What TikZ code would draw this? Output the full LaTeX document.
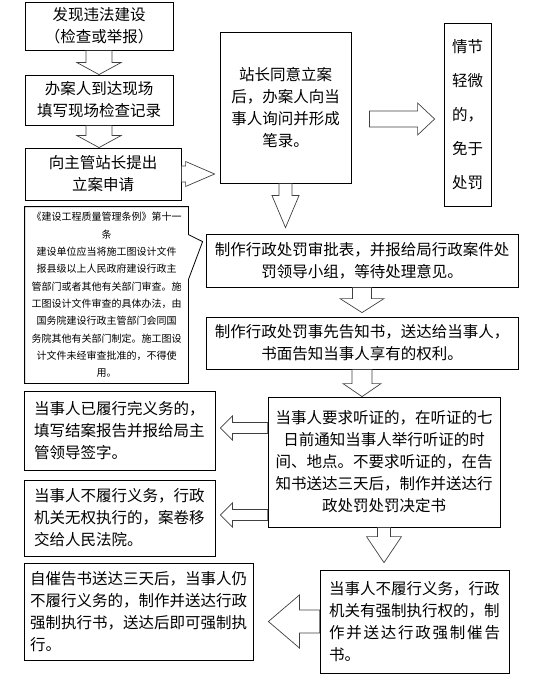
\documentclass[tikz,border=0pt]{standalone}
\usepackage{fontspec}
\setmainfont{Noto Sans CJK SC}
\usetikzlibrary{calc}

\newcommand{\blockarrow}[5]{%
\draw[fatarrow] let \p1=(#4), \p2=(#5), \n1={atan2(\y2-\y1,\x2-\x1)}, \n2={veclen(\x2-\x1,\y2-\y1)} in
  [shift={(\p1)}, rotate=\n1]
  (0pt,#1/2) -- ({\n2-#3},#1/2) -- ({\n2-#3},#2/2) -- (\n2,0pt) -- ({\n2-#3},-#2/2) -- ({\n2-#3},-#1/2) -- (0pt,-#1/2) -- cycle;
}

\begin{document}
\begin{tikzpicture}
[
x=1pt, y=-1pt,
every node/.style={draw, line width=0.8pt, inner sep=0pt, align=center, font=\fontsize{15.5}{22}\selectfont},
leftbox/.style={align=left, text width=#1},
note/.style={draw=none, font=\fontsize{10}{17.3}\selectfont},
fatarrow/.style={draw=black!75, line width=0.7pt, line join=miter}
]

\useasboundingbox (0,0) rectangle (543,676);

\node[minimum width=148, minimum height=48] (found) at (99,26) {发现违法建设\\（检查或举报）};
\node[minimum width=148, minimum height=50] (visit) at (99,100) {办案人到达现场\\填写现场检查记录};
\node[minimum width=156, minimum height=52] (apply) at (103,174) {向主管站长提出\\立案申请};
\node[minimum width=131, minimum height=151] (approve) at (285.5,107.5) {站长同意立案\\后，办案人向当\\事人询问并形成\\笔录。};
\node[minimum width=47, minimum height=183, font=\fontsize{15.5}{34}\selectfont] (exempt) at (467.5,114.5) {情节\\轻微\\的，\\免于\\处罚};
\node[note, minimum width=163, minimum height=176] (clause) at (106.5,295) {《建设工程质量管理条例》第十一\\条\\建设单位应当将施工图设计文件\\报县级以上人民政府建设行政主\\管部门或者其他有关部门审查。施\\工图设计文件审查的具体办法，由\\国务院建设行政主管部门会同国\\务院其他有关部门制定。施工图设\\计文件未经审查批准的，不得使\\用。};
\node[minimum width=312, minimum height=53] (review) at (362,260.5) {制作行政处罚审批表，并报给局行政案件处\\罚领导小组，等待处理意见。};
\node[minimum width=312, minimum height=52] (notice) at (362,343) {制作行政处罚事先告知书，送达给当事人，\\书面告知当事人享有的权利。};
\node[minimum width=232, minimum height=130] (hearing) at (384,462) {当事人要求听证的，在听证的七\\日前通知当事人举行听证的时\\间、地点。不要求听证的，在告\\知书送达三天后，制作并送达行\\政处罚处罚决定书};
\node[leftbox=171pt, minimum width=191, minimum height=79] (done) at (119.5,430.5) {当事人已履行完义务的，\\填写结案报告并报给局主\\管领导签字。};
\node[leftbox=171pt, minimum width=191, minimum height=76] (court) at (119.5,518) {当事人不履行义务，行政\\机关无权执行的，案卷移\\交给人民法院。};
\node[leftbox=217pt, minimum width=229, minimum height=97] (enforce) at (138.5,611.5) {自催告书送达三天后，当事人仍\\不履行义务的，制作并送达行政\\强制执行书，送达后即可强制执\\行。};
\node[leftbox=171pt, minimum width=189, minimum height=103] (urge) at (414.5,621.5) {当事人不履行义务，行政\\机关有强制执行权的，制\\\makebox[\linewidth][s]{作\hfil 并\hfil 送\hfil 达\hfil 行\hfil 政\hfil 强\hfil 制\hfil 催\hfil 告}\\书。};

\coordinate (pin) at ($(review.north west)+(-3,8)$);
\draw[line width=0.8pt] (clause.north west) -- (clause.north east) -- ($(clause.north east)+(0,28)$) -- (pin)
  -- ($(clause.north east)+(0,73)$) -- (clause.south east) -- (clause.south west) -- cycle;

\coordinate (exempt in) at ($(approve.east)+(18,11.5)$);
\coordinate (exempt out) at ($(exempt.west)+(-9,4.5)$);
\coordinate (h1) at ($(hearing.west)+(0,-34)$);
\coordinate (h2) at ($(hearing.west)+(0,53)$);

\blockarrow{26pt}{44pt}{12pt}{found.south}{found.south |- visit.north}
\blockarrow{26pt}{44pt}{12pt}{visit.south}{visit.south |- apply.north}
\blockarrow{16pt}{25pt}{29pt}{apply.east}{$(apply.east -| approve.west)+(-5,0)$}
\blockarrow{16pt}{32pt}{17pt}{exempt in}{exempt out}
\blockarrow{13pt}{27pt}{32pt}{approve.south}{$(approve.south |- review.north)+(0,-6)$}
\blockarrow{19pt}{44pt}{14pt}{review.south}{$(review.south |- notice.north)+(0,-4)$}
\blockarrow{20pt}{38pt}{13pt}{notice.south}{notice.south |- hearing.north}
\blockarrow{11pt}{24pt}{12pt}{h1}{$(h1 -| done.east)+(5,0)$}
\blockarrow{11pt}{24pt}{12pt}{h2}{$(h2 -| court.east)+(5,0)$}
\blockarrow{13pt}{35pt}{26pt}{hearing.south}{$(hearing.south |- urge.north)+(0,-7)$}
\blockarrow{23pt}{53pt}{31pt}{urge.west}{$(urge.west -| enforce.east)+(15,0)$}
\end{tikzpicture}
\end{document}
